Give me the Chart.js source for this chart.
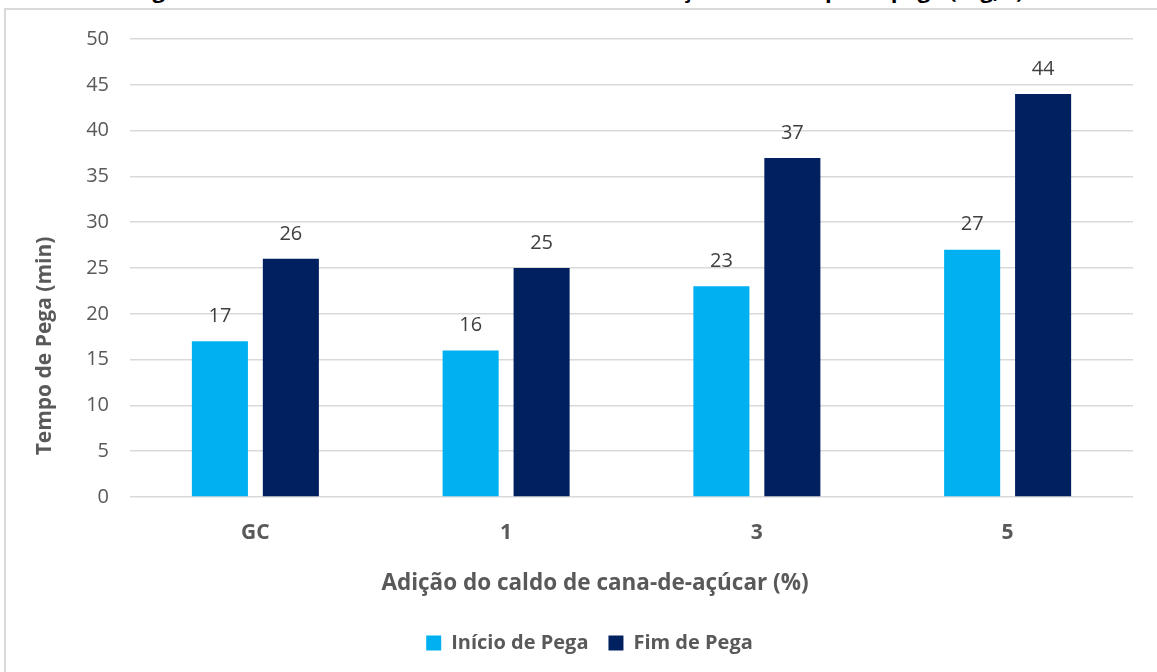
<!DOCTYPE html>
<html>
<head>
    <title>Tempo de Pega</title>
    <script src="https://cdn.jsdelivr.net/npm/chart.js"></script>
    <style>
        html, body { margin: 0; padding: 0; background: #fff; overflow: hidden; width: 1157px; height: 672px; }
        #title {
            position: absolute; left: 0; top: -26px; width: 1157px; text-align: center;
            font: bold 22px "Open Sans", sans-serif; color: #000; white-space: nowrap;
        }
        #box {
            position: absolute; left: 4px; top: 8px; width: 1151px; height: 662px;
            border: 2px solid #d9d9d9; background: #fff;
        }
    </style>
</head>
<body>
    <div id="title">Figura 3 – Influência do teor de caldo de cana-de-açúcar no tempo de pega (seg, s)</div>
    <div id="box">
        <canvas id="myChart" width="1151" height="662"></canvas>
    </div>

    <script>
        // values
        const categories = ['GC', '1', '3', '5'];
        const inicioPega = [17, 16, 23, 27];
        const fimPega = [26, 25, 37, 44];
        const seriesNames = ['Início de Pega', 'Fim de Pega'];
        const xTitle = 'Adição do caldo de cana-de-açúcar (%)';
        const yTitle = 'Tempo de Pega (min)';

        const FONT = '"Open Sans", sans-serif';
        const GREY = '#595959';

        // value labels above each bar + both axis titles (placed like the original, off-centre)
        const barLabels = {
            id: 'barLabels',
            afterLayout(chart) {
                // legend in the original sits a bit right of the canvas centre
                chart.legend.left += 20;
                chart.legend.right += 20;
            },
            afterDatasetsDraw(chart) {
                const ctx = chart.ctx;
                const area = chart.chartArea;
                ctx.save();
                ctx.font = '20px ' + FONT;
                ctx.fillStyle = '#404040';
                ctx.textAlign = 'center';
                ctx.textBaseline = 'bottom';
                chart.data.datasets.forEach((ds, i) => {
                    chart.getDatasetMeta(i).data.forEach((bar, j) => {
                        ctx.fillText(ds.data[j], bar.x, bar.y - 15);
                    });
                });

                ctx.font = 'bold 22.5px ' + FONT;
                ctx.fillStyle = GREY;
                ctx.textBaseline = 'middle';
                ctx.fillText(xTitle, area.left + 465, area.bottom + 87);

                ctx.font = 'bold 21px ' + FONT;
                ctx.translate(chart.scales.y.left + 39, area.bottom - 151);
                ctx.rotate(-Math.PI / 2);
                ctx.fillText(yTitle, 0, 0);
                ctx.restore();
            }
        };

        const ctx = document.getElementById('myChart').getContext('2d');
        window.myChart = new Chart(ctx, {
            type: 'bar',
            data: {
                labels: categories,
                datasets: [{
                    label: seriesNames[0],
                    data: inicioPega,
                    backgroundColor: '#00b0f0',
                    barPercentage: 0.79,
                    categoryPercentage: 0.566
                }, {
                    label: seriesNames[1],
                    data: fimPega,
                    backgroundColor: '#002060',
                    barPercentage: 0.79,
                    categoryPercentage: 0.566
                }]
            },
            options: {
                responsive: false,
                animation: false,
                layout: { padding: { top: 29, right: 24, bottom: 9, left: 0 } },
                plugins: {
                    legend: {
                        position: 'bottom',
                        labels: {
                            font: { family: FONT, size: 20, weight: 'bold' },
                            color: GREY,
                            boxWidth: 15,
                            boxHeight: 15,
                            padding: 20
                        }
                    },
                    tooltip: { enabled: false }
                },
                scales: {
                    x: {
                        grid: { display: false },
                        border: { display: false },
                        ticks: {
                            font: { family: FONT, size: 21, weight: 'bold' },
                            color: GREY,
                            padding: 15
                        },
                        afterFit(scale) { scale.height = 116; }
                    },
                    y: {
                        min: 0,
                        max: 50,
                        ticks: {
                            stepSize: 5,
                            font: { family: FONT, size: 20 },
                            color: GREY,
                            padding: 21
                        },
                        grid: { color: '#d9d9d9', lineWidth: 1.5, drawTicks: false },
                        border: { display: false },
                        afterFit(scale) {
                            scale.width = 124;
                            // tick padding otherwise pushes the plot top down
                            scale.paddingTop = 0;
                            scale.paddingBottom = 0;
                        }
                    }
                }
            },
            plugins: [barLabels]
        });
    </script>
</body>
</html>
